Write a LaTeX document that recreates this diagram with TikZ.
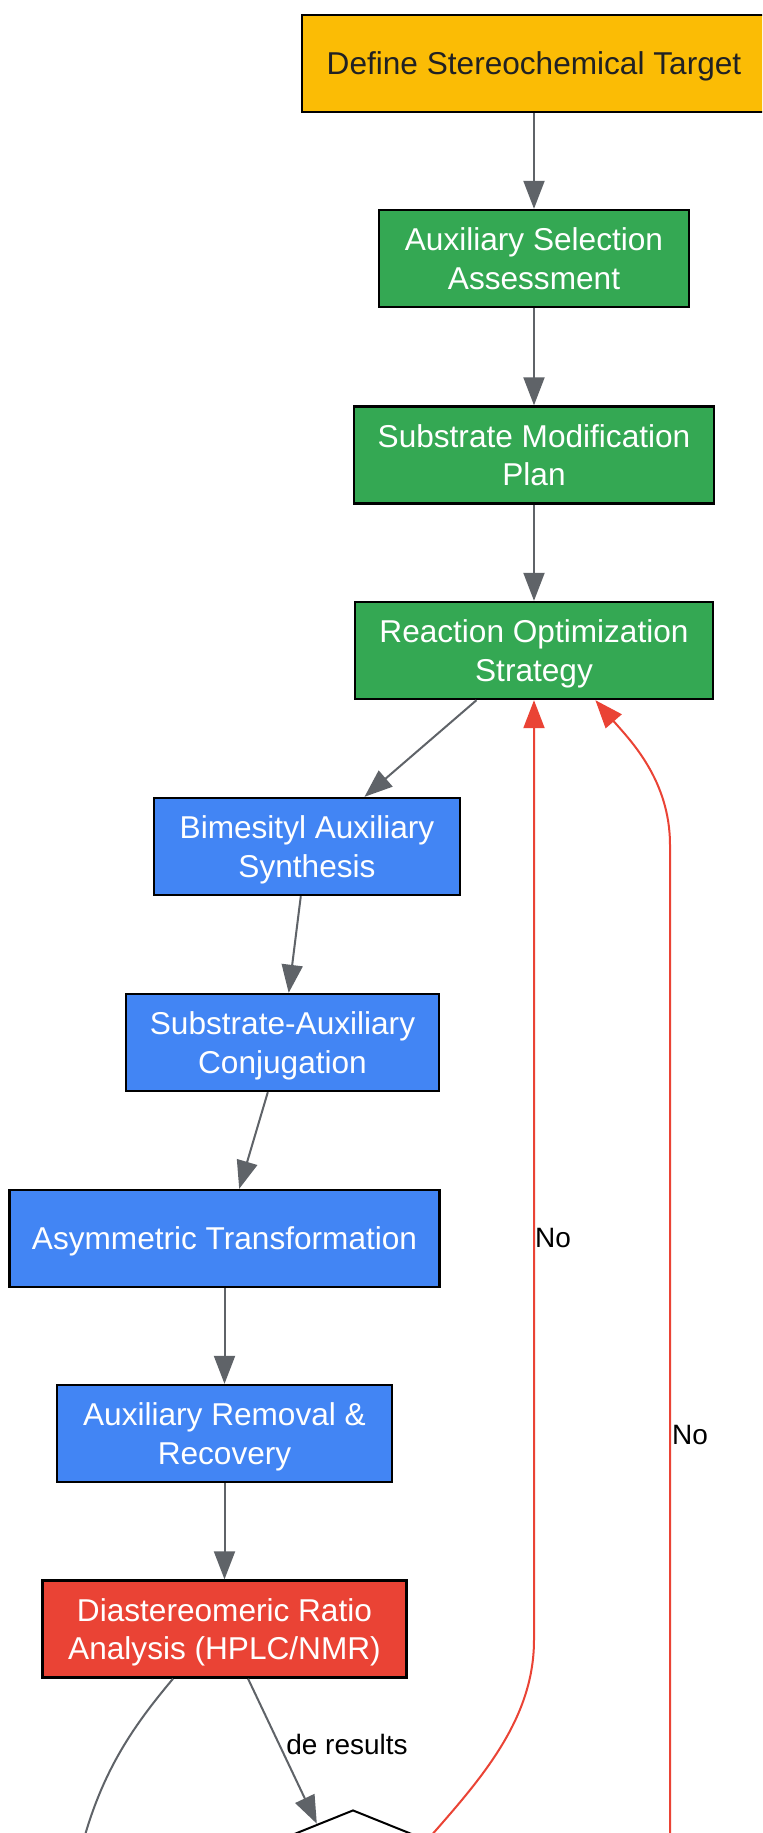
\documentclass[tikz,border=0pt]{standalone}
\usepackage{fontspec}
\setmainfont{Liberation Sans}
\usetikzlibrary{arrows.meta,shapes.geometric}

\definecolor{gyellow}{HTML}{FBBC05}
\definecolor{ggreen}{HTML}{34A853}
\definecolor{gblue}{HTML}{4285F4}
\definecolor{gred}{HTML}{EA4335}
\definecolor{ggray}{HTML}{5F6368}
\definecolor{gdark}{HTML}{202124}

\begin{document}
\begin{tikzpicture}[x=0.5pt,y=-0.5pt,
    box/.style={draw=black, line width=1.2pt, minimum height=48.5pt, inner sep=0pt,
      align=center, text=white, font=\fontsize{15.8}{19.3}\selectfont,
      text height=11.4pt, text depth=0pt},
    twoline/.style={box, text height=30.7pt},
    edge/.style={draw=ggray, line width=1pt, -{Triangle[length=14pt,width=10.5pt]}},
    noedge/.style={draw=gred, line width=1pt, -{Triangle[length=14pt,width=10.5pt]}},
    lbl/.style={inner sep=0pt, font=\fontsize{14}{16}\selectfont}]
      \clip (0,0) rectangle (762,1833);
      \fill[white] (0,0) rectangle (762,1833);

      \node[box, fill=gyellow, text=gdark, minimum width=232pt] (def) at (534,63.5) {Define Stereochemical Target};
      \node[twoline, fill=ggreen, minimum width=155pt] (sel) at (534,258.5) {Auxiliary Selection\\Assessment};
      \node[twoline, fill=ggreen, minimum width=180pt] (sub) at (534,455) {Substrate Modification\\Plan};
      \node[twoline, fill=ggreen, minimum width=179pt] (opt) at (534,650.5) {Reaction Optimization\\Strategy};

      \node[twoline, fill=gblue, minimum width=153pt] (bim) at (307,846.5) {Bimesityl Auxiliary\\Synthesis};
      \node[twoline, fill=gblue, minimum width=156.5pt] (con) at (282.5,1042.5) {Substrate-Auxiliary\\Conjugation};
      \node[box, fill=gblue, minimum width=215pt] (asy) at (224.5,1238.5) {Asymmetric Transformation};
      \node[twoline, fill=gblue, minimum width=167.5pt] (rem) at (224.5,1433.5) {Auxiliary Removal \&\\Recovery};
      \node[twoline, fill=gred, minimum width=182pt] (ana) at (224.5,1629) {Diastereomeric Ratio\\Analysis (HPLC/NMR)};

      \node[diamond, draw=black, line width=1pt, inner sep=0pt, minimum width=223pt, minimum height=90pt] (dec) at (353,1900) {};
      \coordinate (offl) at (70,1900);
      \coordinate (offr) at (670,1900);

      \draw[edge] (def) -- (sel);
      \draw[edge] (sel) -- (sub);
      \draw[edge] (sub) -- (opt);
      \draw[edge] (opt) -- (bim);
      \draw[edge] (bim) -- (con);
      \draw[edge] (con) -- (asy);
      \draw[edge] (asy) -- (rem);
      \draw[edge] (rem) -- (ana);
      \draw[edge] (ana) -- (dec);
      \draw[edge] (ana.-136) .. controls (130,1730) and (95,1780) .. (offl);

      \draw[noedge] (dec.39) .. controls (480,1780) and (534,1720) .. (534,1640) -- (opt.south);
      \draw[noedge] (offr) -- (670,845) .. controls (670,780) and (630,740) .. (opt.-39);

      \node[lbl] (lde) at (347,1744) {de results};
      \node[lbl] (lno1) at (553,1238) {No};
      \node[lbl] (lno2) at (690,1435) {No};
    \end{tikzpicture}
\end{document}
